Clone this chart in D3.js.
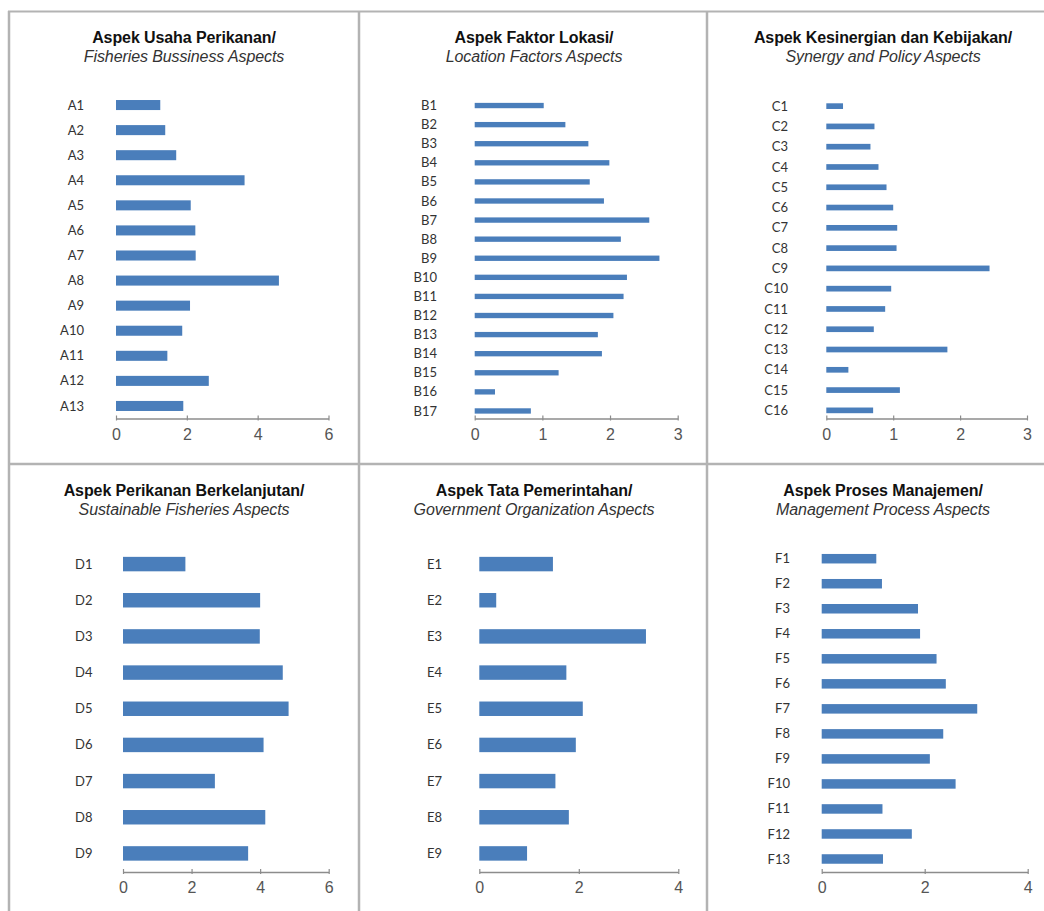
<!DOCTYPE html>
<html><head><meta charset="utf-8">
<script src="https://cdn.jsdelivr.net/npm/d3@7"></script>
<style>body{margin:0;background:#fff}svg{display:block}</style>
</head><body>
<svg id="c" width="1044" height="911"></svg>
<script>
const titlesA = ["Aspek Usaha Perikanan/", "Fisheries Bussiness Aspects"];
const catsA = ["A1","A2","A3","A4","A5","A6","A7","A8","A9","A10","A11","A12","A13"];
const valsA = [1.25,1.39,1.70,3.63,2.11,2.24,2.25,4.60,2.09,1.87,1.45,2.62,1.90];
const ticksA = [0,2,4,6];

const titlesB = ["Aspek Faktor Lokasi/", "Location Factors Aspects"];
const catsB = ["B1","B2","B3","B4","B5","B6","B7","B8","B9","B10","B11","B12","B13","B14","B15","B16","B17"];
const valsB = [1.02,1.34,1.68,1.99,1.70,1.91,2.58,2.16,2.73,2.25,2.20,2.05,1.82,1.88,1.24,0.30,0.83];
const ticksB = [0,1,2,3];

const titlesC = ["Aspek Kesinergian dan Kebijakan/", "Synergy and Policy Aspects"];
const catsC = ["C1","C2","C3","C4","C5","C6","C7","C8","C9","C10","C11","C12","C13","C14","C15","C16"];
const valsC = [0.25,0.72,0.66,0.78,0.90,1.00,1.06,1.05,2.44,0.97,0.88,0.71,1.81,0.33,1.10,0.70];
const ticksC = [0,1,2,3];

const titlesD = ["Aspek Perikanan Berkelanjutan/", "Sustainable Fisheries Aspects"];
const catsD = ["D1","D2","D3","D4","D5","D6","D7","D8","D9"];
const valsD = [1.82,4.00,3.99,4.66,4.83,4.10,2.68,4.15,3.65];
const ticksD = [0,2,4,6];

const titlesE = ["Aspek Tata Pemerintahan/", "Government Organization Aspects"];
const catsE = ["E1","E2","E3","E4","E5","E6","E7","E8","E9"];
const valsE = [1.48,0.34,3.35,1.75,2.08,1.94,1.53,1.80,0.96];
const ticksE = [0,2,4];

const titlesF = ["Aspek Proses Manajemen/", "Management Process Aspects"];
const catsF = ["F1","F2","F3","F4","F5","F6","F7","F8","F9","F10","F11","F12","F13"];
const valsF = [1.06,1.17,1.87,1.91,2.23,2.41,3.02,2.36,2.10,2.60,1.18,1.75,1.19];
const ticksF = [0,2,4];

const svg = d3.select("#c");
const BAR = "#4a7ebb";
const BORDER = "#b3b3b3";

// panel frame
const frame = svg.append("g");
frame.append("line").attr("x1",8).attr("x2",1044).attr("y1",11.5).attr("y2",11.5).attr("stroke",BORDER).attr("stroke-width",2);
frame.append("line").attr("x1",9).attr("x2",9).attr("y1",11).attr("y2",911).attr("stroke",BORDER).attr("stroke-width",2.5);
frame.append("line").attr("x1",359).attr("x2",359).attr("y1",11).attr("y2",911).attr("stroke",BORDER).attr("stroke-width",2.5);
frame.append("line").attr("x1",707).attr("x2",707).attr("y1",11).attr("y2",911).attr("stroke",BORDER).attr("stroke-width",2.5);
frame.append("line").attr("x1",8).attr("x2",1044).attr("y1",464).attr("y2",464).attr("stroke",BORDER).attr("stroke-width",2.5);

const panels = [
  {t:titlesA, c:catsA, v:valsA, tk:ticksA, cx:184, ty:[42.5,62], x0:116, x1:328.5, y0:92.5, y1:418.5, ax:418.5, pad:0.6, lx:84},
  {t:titlesB, c:catsB, v:valsB, tk:ticksB, cx:534, ty:[42.5,62], x0:474.7, x1:677.7, y0:96, y1:420.5, ax:418.5, pad:0.72, lx:437},
  {t:titlesC, c:catsC, v:valsC, tk:ticksC, cx:883, ty:[42.5,62], x0:826.3, x1:1027, y0:96, y1:420.5, ax:418.5, pad:0.72, lx:788},
  {t:titlesD, c:catsD, v:valsD, tk:ticksD, cx:184, ty:[496,515], x0:123, x1:328.7, y0:546, y1:871.5, ax:872, pad:0.6, lx:92.5},
  {t:titlesE, c:catsE, v:valsE, tk:ticksE, cx:534, ty:[496,515], x0:479.3, x1:678.3, y0:546, y1:871.5, ax:872, pad:0.6, lx:442},
  {t:titlesF, c:catsF, v:valsF, tk:ticksF, cx:883, ty:[496,515], x0:821.7, x1:1027.7, y0:546.2, y1:871.5, ax:872, pad:0.62, lx:790}
];

panels.forEach(p => {
  const g = svg.append("g");
  g.append("text").attr("x",p.cx).attr("y",p.ty[0]).attr("text-anchor","middle")
    .attr("font-family","Liberation Sans, Arial, sans-serif").attr("font-weight","bold").attr("font-size",16)
    .attr("letter-spacing",-0.1).attr("fill","#111").text(p.t[0]);
  g.append("text").attr("x",p.cx).attr("y",p.ty[1]).attr("text-anchor","middle")
    .attr("font-family","Liberation Sans, Arial, sans-serif").attr("font-style","italic").attr("font-size",16)
    .attr("letter-spacing",-0.1).attr("fill","#333").text(p.t[1]);

  const x = d3.scaleLinear().domain([p.tk[0], p.tk[p.tk.length-1]]).range([p.x0, p.x1]);
  const y = d3.scaleBand().domain(p.c).range([p.y0, p.y1]).paddingInner(p.pad).paddingOuter(p.pad/2);

  g.selectAll("rect.bar").data(p.c).join("rect").attr("class","bar")
    .attr("x", x(0)).attr("y", d => y(d))
    .attr("width", (d,i) => x(p.v[i]) - x(0)).attr("height", y.bandwidth())
    .attr("fill", BAR);

  // category labels
  g.selectAll("text.cat").data(p.c).join("text").attr("class","cat")
    .attr("x", p.lx).attr("y", d => y(d) + y.bandwidth()/2).attr("dy","0.35em")
    .attr("text-anchor","end").attr("font-family","Lato, Open Sans, sans-serif")
    .attr("font-size",13).attr("fill","#333").text(d => d);

  // x axis
  const axis = d3.axisBottom(x).tickValues(p.tk).tickSize(5).tickSizeOuter(0).tickFormat(d3.format("d"));
  const ag = g.append("g").attr("transform",`translate(0,${p.ax})`).call(axis);
  ag.select(".domain").attr("stroke","#8c8c8c").attr("stroke-width",1.5);
  ag.selectAll(".tick line").attr("stroke","#8c8c8c").attr("stroke-width",1.2).attr("y1",-3).attr("y2",2);
  ag.selectAll(".tick text").attr("font-family","Liberation Sans, Arial, sans-serif").attr("font-size",16)
    .attr("fill","#555").attr("y",10);
});
</script>
</body></html>
